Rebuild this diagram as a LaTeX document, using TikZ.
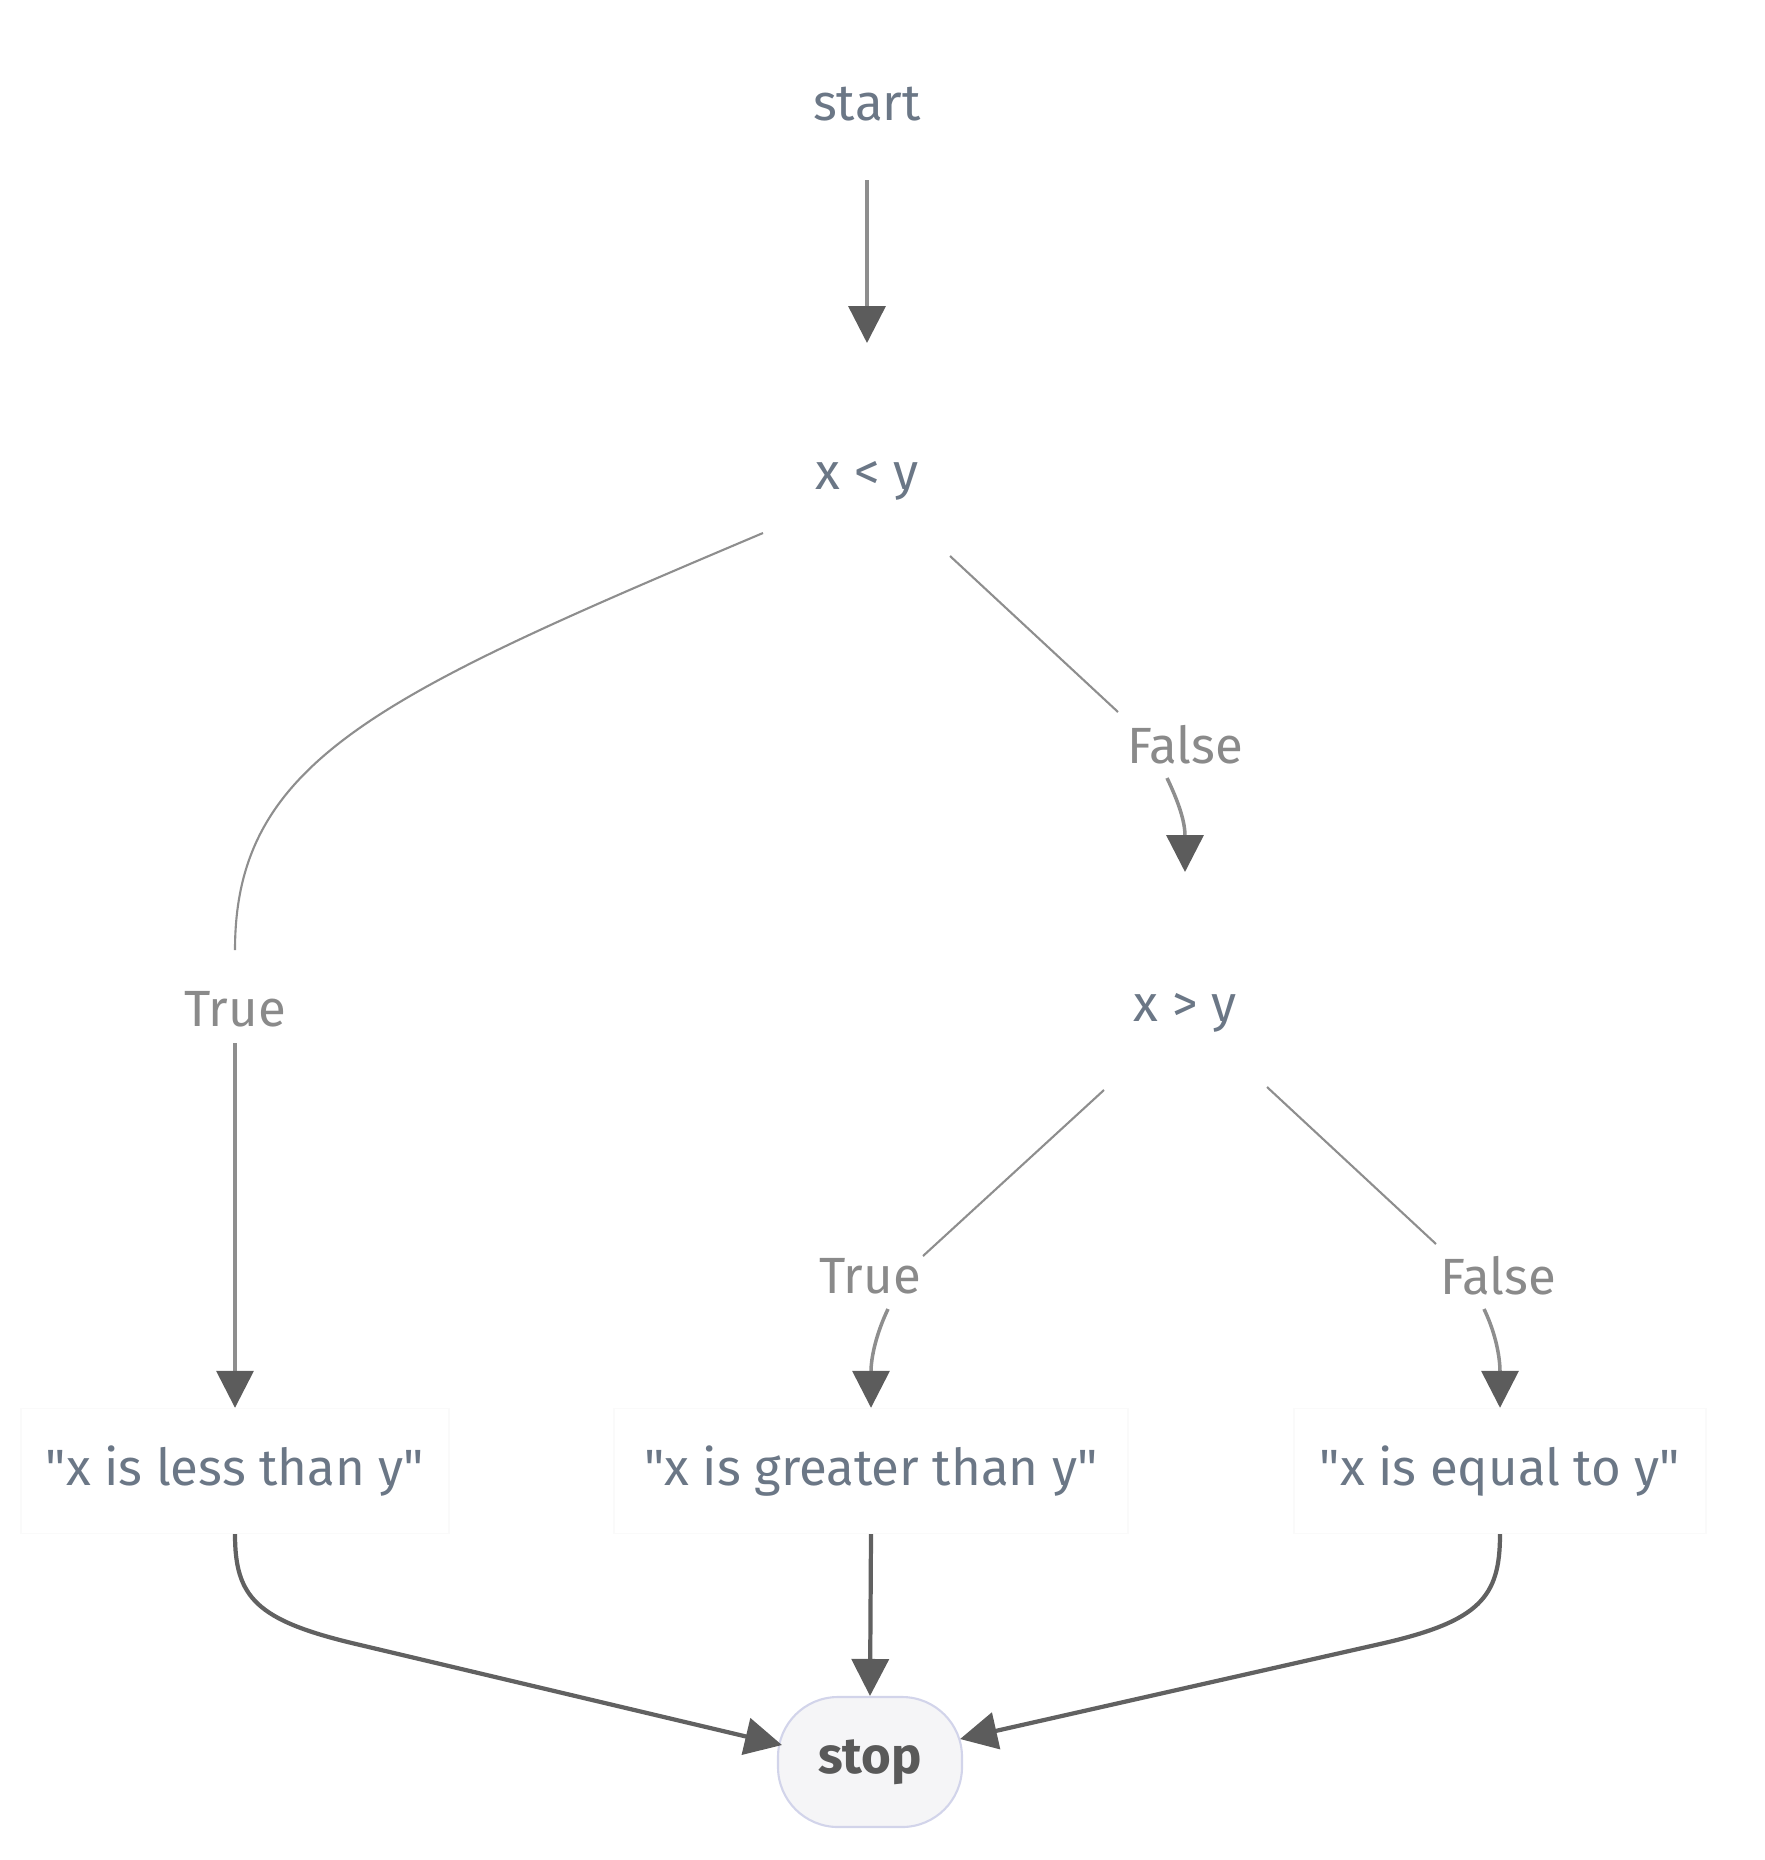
\documentclass[tikz,border=0pt]{standalone}
\usepackage{fontspec}
\setmainfont{Fira Sans}
\usetikzlibrary{arrows.meta,calc,positioning}
\definecolor{txt}{HTML}{6B7786}
\definecolor{lbl}{HTML}{8A8A8A}
\definecolor{edge}{HTML}{8E8E8E}
\definecolor{tipc}{HTML}{5C5C5C}
\definecolor{stopfill}{HTML}{F5F5F7}
\definecolor{stopline}{HTML}{D2D4EA}

\begin{document}
\begin{tikzpicture}[x=0.1mm, y=-0.1mm,
    font=\fontsize{14.5}{17}\selectfont,
    nodes={text=txt, inner sep=0},
    textbox/.style={draw=black!2, minimum height=12.5mm},
    endnode/.style={draw=stopline, line width=0.6pt, fill=stopfill,
      rounded corners=6mm, minimum width=18.4mm, minimum height=13mm,
      text=black!65, font=\fontsize{14.5}{17}\selectfont\bfseries},
    elabel/.style={text=lbl},
    thinline/.style={draw=edge, line width=0.6pt},
    flow/.style={draw=edge, line width=1pt,
      -{Triangle[length=3.7mm, width=3.7mm, color=tipc]}},
    mergeline/.style={draw=black!62, line width=1.2pt,
      -{Triangle[length=3.7mm, width=3.7mm, color=tipc]}}]
  \useasboundingbox (0,0) rectangle (1764,1860);

  \node (start) at (867,104) {start};
  \node (lt) at (867,481) {x < y};
  \node (gt) at (1185,1013) {x > y};
  \node[elabel] (t1) at (235,1009) {True};
  \node[elabel] (f1) at (1185,745) {False};
  \node[elabel] (t2) at (870,1276) {True};
  \node[elabel] (f2) at (1498,1276) {False};
  \node[textbox, minimum width=42.8mm] (less) at (235,1471)
    {\textquotedbl x is less than y\textquotedbl};
  \node[textbox, minimum width=51.4mm] (greater) at (871,1471)
    {\textquotedbl x is greater than y\textquotedbl};
  \node[textbox, minimum width=41.2mm] (equal) at (1500,1471)
    {\textquotedbl x is equal to y\textquotedbl};
  \node[endnode] (stop) at (870,1762) {stop};

  \draw[flow] ($(start)+(0,76)$) -- ($(lt)+(0,-138)$);

  \draw[thinline] ($(lt)+(-104,52)$) .. controls (380,695) and (235,760) .. ($(t1)+(0,-59)$);
  \draw[flow] ($(t1)+(0,34)$) -- (less.north);

  \draw[thinline] ($(lt)+(83,75)$) -- ($(f1)+(-67,-33)$);
  \draw[flow] ($(f1)+(-18,33)$) .. controls +(12,25) and +(0,-50) .. ($(gt)+(0,-141)$);

  \draw[thinline] ($(gt)+(-81,77)$) -- ($(t2)+(53,-20)$);
  \draw[flow] ($(t2)+(18,33)$) .. controls +(-12,25) and +(0,-50) .. (greater.north);

  \draw[thinline] ($(gt)+(82,74)$) -- ($(f2)+(-62,-32)$);
  \draw[flow] ($(f2)+(-14,33)$) .. controls +(12,25) and +(0,-50) .. (equal.north);

  \draw[mergeline] (less.south) .. controls +(0,63) and +(-100,-23.6) .. (356,1644)
    -- ($(stop.west)+(5,-17)$);
  \draw[mergeline] (greater.south) -- (stop.north);
  \draw[mergeline] (equal.south) .. controls +(0,63) and +(100,-22.6) .. (1380,1644)
    -- ($(stop.east)+(-3,-23)$);
\end{tikzpicture}
\end{document}
